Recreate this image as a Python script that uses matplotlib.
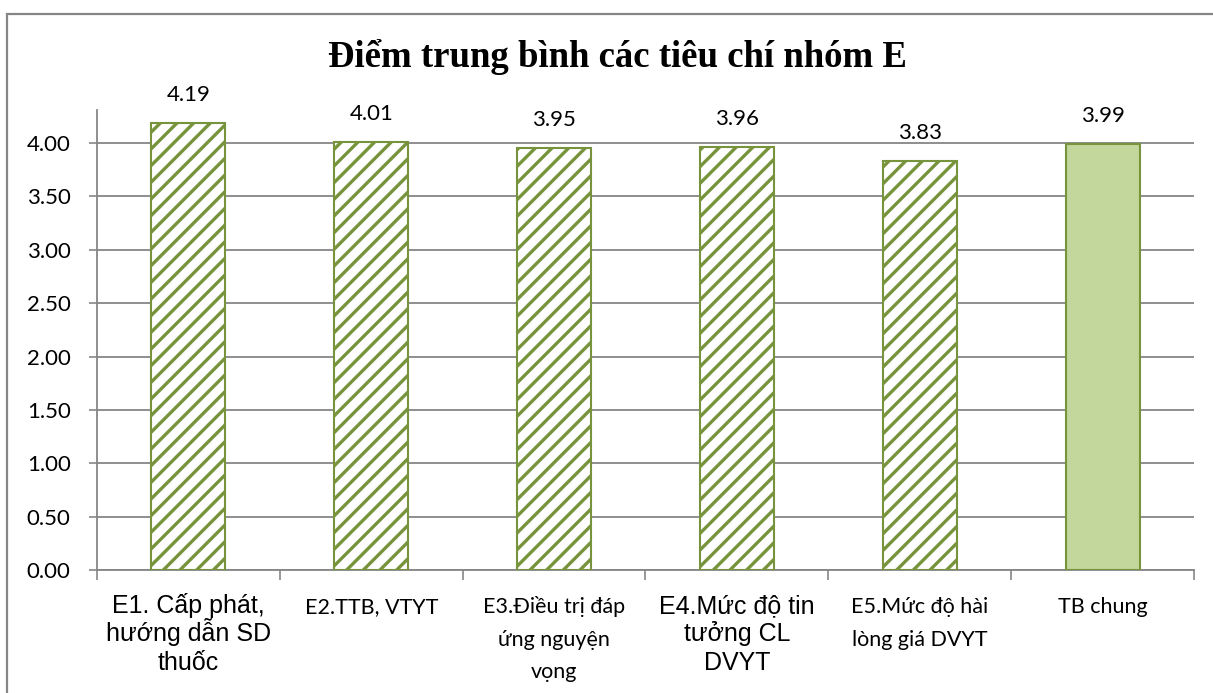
import matplotlib
matplotlib.use("Agg")
import matplotlib.pyplot as plt
from matplotlib.patches import Rectangle
from matplotlib.transforms import blended_transform_factory, offset_copy
import numpy as np

title = "Điểm trung bình các tiêu chí nhóm E"
categories = [
    "E1. Cấp phát,\nhướng dẫn SD\nthuốc",
    "E2.TTB, VTYT",
    "E3.Điều trị đáp\nứng nguyện\nvọng",
    "E4.Mức độ tin\ntưởng CL\nDVYT",
    "E5.Mức độ hài\nlòng giá DVYT",
    "TB chung",
]
values = [4.19, 4.01, 3.95, 3.96, 3.83, 3.99]
yticks = [0.0, 0.5, 1.0, 1.5, 2.0, 2.5, 3.0, 3.5, 4.0]

green = "#77933C"
light_green = "#C3D69B"
grid_grey = "#868686"

plt.rcParams["hatch.linewidth"] = 2.4
plt.rcParams["hatch.color"] = green

fig = plt.figure(figsize=(12.13, 6.93), dpi=100)
W, H = 1213, 693
ax = fig.add_axes([97 / W, 1 - 570 / H, (1194 - 97) / W, (570 - 110) / H])

x = np.arange(len(values))
for i, v in enumerate(values):
    if i < len(values) - 1:
        ax.bar(x[i], v, width=0.405, facecolor="white", edgecolor=green,
               hatch="//", linewidth=1.5, zorder=3)
    else:
        ax.bar(x[i], v, width=0.405, facecolor=light_green, edgecolor=green,
               linewidth=1.5, zorder=3)
    # value label a fixed distance above the bar top
    lab_tr = offset_copy(ax.transData, fig=fig, x=0, y=22, units="dots")
    ax.text(x[i], v, f"{v:.2f}", ha="center", va="baseline", transform=lab_tr,
            fontsize=16, family="Lato", color="#000000")

ax.set_xlim(-0.5, len(values) - 0.5)
ax.set_ylim(0, 4.31)
ax.set_yticks(yticks)
ax.set_yticklabels([f"{t:.2f}" for t in yticks], family="Lato", fontsize=16)
ax.yaxis.grid(True, color=grid_grey, linewidth=1.3, zorder=0)
ax.set_axisbelow(True)

ax.set_xticks(np.arange(len(values) + 1) - 0.5)
ax.set_xticklabels([])
ax.tick_params(axis="x", length=7, width=1.2, color=grid_grey, direction="out")
ax.tick_params(axis="y", length=6, width=1.2, color=grid_grey, direction="out", pad=13)

for s in ["top", "right"]:
    ax.spines[s].set_visible(False)
for s in ["left", "bottom"]:
    ax.spines[s].set_color(grid_grey)
    ax.spines[s].set_linewidth(1.3)

# Category labels under the axis, with the mixed typefaces of the original sheet;
# each line is set on its own baseline
label_styles = [
    (dict(family="Liberation Sans", fontsize=18), 28.5),
    (dict(family="Lato", fontsize=15.5), 32.5),
    (dict(family="Lato", fontsize=15.5), 32.5),
    (dict(family="Liberation Sans", fontsize=18), 28.5),
    (dict(family="Lato", fontsize=15.5), 32.5),
    (dict(family="Lato", fontsize=15.5), 32.5),
]
trans = blended_transform_factory(ax.transData, fig.transFigure)
first_baseline = 613
for i, (lab, (st, step)) in enumerate(zip(categories, label_styles)):
    for k, line in enumerate(lab.split("\n")):
        ax.text(x[i], 1 - (first_baseline + k * step) / H, line, ha="center",
                va="baseline", transform=trans, **st)

fig.text(617 / W, 1 - 57 / H, title, ha="center", va="center",
         family="Liberation Serif", fontweight="bold", fontsize=26.5)

# Chart frame
fig.patches.append(Rectangle((7 / W, -0.2), 1.5, 1.2 - 14 / H,
                             transform=fig.transFigure, fill=False,
                             edgecolor=grid_grey, linewidth=1.6))

fig.savefig("out.png", dpi=100)
